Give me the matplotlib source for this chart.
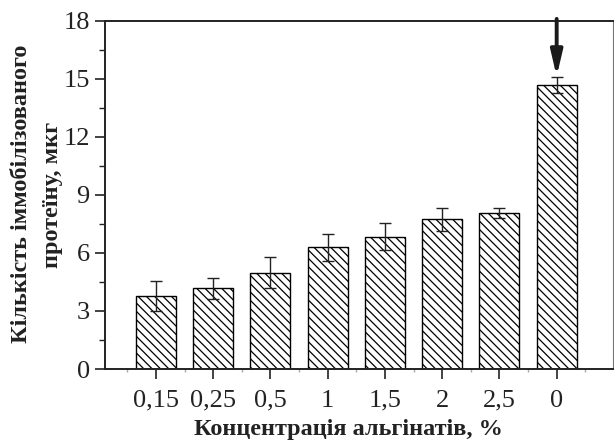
import numpy as np
import matplotlib.pyplot as plt
from matplotlib.ticker import MultipleLocator

plt.rcParams['font.family'] = ['Liberation Serif', 'DejaVu Serif']

labels = ['0,15', '0,25', '0,5', '1', '1,5', '2', '2,5', '0']
values = [3.77, 4.17, 4.98, 6.29, 6.84, 7.74, 8.05, 14.67]
errors = [0.77, 0.53, 0.80, 0.70, 0.71, 0.60, 0.25, 0.40]

fig = plt.figure(figsize=(6.14, 4.43), dpi=100, facecolor='w')
ax = fig.add_axes([0.171, 0.167, 0.827, 0.786])

x = np.arange(len(labels))
plt.rcParams['hatch.linewidth'] = 0.9
ax.bar(x, values, width=0.7, color='white', edgecolor='black', linewidth=1.0,
       hatch='\\\\\\\\', zorder=2)
ax.errorbar(x, values, yerr=errors, fmt='none', ecolor='#222222', elinewidth=1.0,
            capsize=4, capthick=1.0, zorder=3)

# arrow pointing at the control bar
ax.annotate('', xy=(x[-1], values[-1] + errors[-1] + 0.05), xytext=(x[-1], 18.1),
            arrowprops=dict(arrowstyle='-|>,head_length=1.5,head_width=0.35',
                            color='#1a1a1a', lw=2.8, shrinkA=0, shrinkB=0),
            annotation_clip=False, zorder=4)

ax.set_xlim(-0.89, 7.98)
ax.set_ylim(0, 18)
ax.set_xticks(x)
ax.set_xticklabels(labels)
ax.xaxis.set_minor_locator(MultipleLocator(1, offset=0.5))
ax.set_yticks(np.arange(0, 19, 3))
ax.yaxis.set_minor_locator(MultipleLocator(1.5))

ax.tick_params(axis='both', which='major', direction='out', length=7, width=1.2,
               labelsize=19, colors='#222222', pad=4)
ax.tick_params(axis='x', which='major', pad=8)
ax.tick_params(axis='y', which='minor', direction='out', length=4, width=1.0, color='#222222')
ax.tick_params(axis='x', which='minor', direction='out', length=2, width=1.0, color='#aaaaaa')

for s in ['left', 'bottom', 'top']:
    ax.spines[s].set_linewidth(1.4)
    ax.spines[s].set_color('#222222')
ax.spines['right'].set_linewidth(0.8)
ax.spines['right'].set_color('#777777')

fig.text(348 / 614, 1 - 430 / 443, 'Концентрація альгінатів, %', ha='center', va='center',
         fontsize=17.5, fontweight='bold', color='#222222')
fig.text(22 / 614, 1 - 194 / 443, 'Кількість іммобілізованого', ha='center', va='center',
         rotation=90, fontsize=17.5, fontweight='bold', color='#222222')
fig.text(53 / 614, 1 - 195 / 443, 'протеїну, мкг', ha='center', va='center',
         rotation=90, fontsize=17.5, fontweight='bold', color='#222222')

plt.savefig('out.png', dpi=100)
